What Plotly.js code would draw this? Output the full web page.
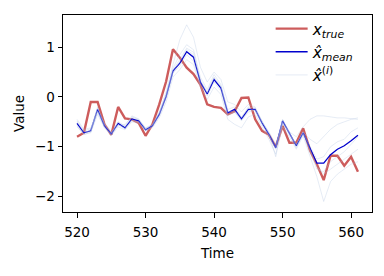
<!DOCTYPE html>
<html>
<head>
<meta charset="utf-8">
<script src="https://cdn.plot.ly/plotly-3.0.1.min.js"></script>
<style>html,body{margin:0;padding:0;background:#fff;}#chart{width:384px;height:276px;}</style>
</head>
<body>
<div id="chart"></div>
<script>
const time = Array.from({length: 42}, (_, i) => 520 + i);
const xTrue = [-0.80,-0.72,-0.10,-0.10,-0.55,-0.76,-0.20,-0.43,-0.45,-0.52,-0.78,-0.55,-0.15,0.31,0.96,0.79,0.59,0.46,0.25,-0.15,-0.20,-0.22,-0.35,-0.29,-0.02,-0.01,-0.45,-0.68,-0.76,-1.00,-0.58,-0.92,-0.92,-0.63,-1.07,-1.35,-1.67,-1.18,-1.18,-1.38,-1.20,-1.50];
const xMean = [-0.53,-0.72,-0.68,-0.25,-0.58,-0.74,-0.53,-0.62,-0.44,-0.48,-0.66,-0.58,-0.35,0.01,0.52,0.68,0.91,0.80,0.30,0.06,0.35,0.18,-0.32,-0.25,-0.44,-0.25,-0.25,-0.52,-0.75,-1.02,-0.48,-0.72,-0.98,-0.72,-1.02,-1.33,-1.33,-1.16,-1.05,-0.98,-0.88,-0.77];
const sample1 = [-0.45,-0.65,-0.62,-0.30,-0.52,-0.70,-0.58,-0.55,-0.40,-0.45,-0.62,-0.55,-0.30,0.10,0.65,1.15,1.45,1.20,0.60,0.30,0.50,0.35,-0.10,-0.15,-0.30,-0.15,-0.20,-0.50,-0.70,-0.95,-0.55,-0.70,-0.80,-0.60,-0.45,-0.38,-0.38,-0.40,-0.42,-0.42,-0.43,-0.45];
const sample2 = [-0.60,-0.75,-0.72,-0.35,-0.62,-0.78,-0.60,-0.66,-0.50,-0.52,-0.68,-0.62,-0.42,-0.10,0.40,0.55,0.75,0.65,0.20,-0.05,0.20,0.05,-0.45,-0.55,-0.62,-0.40,-0.35,-0.60,-0.85,-1.15,-0.60,-0.80,-1.05,-0.78,-1.20,-1.60,-2.10,-1.70,-1.55,-1.45,-1.35,-1.30];
const sample3 = [-0.50,-0.70,-0.70,-0.20,-0.55,-0.72,-0.50,-0.60,-0.42,-0.46,-0.64,-0.56,-0.32,0.05,0.58,0.85,1.05,0.95,0.40,0.15,0.45,0.25,-0.25,-0.20,-0.40,-0.22,-0.28,-0.55,-0.78,-1.05,-0.50,-0.74,-0.95,-0.70,-0.85,-0.94,-0.80,-0.65,-0.55,-0.50,-0.45,-0.42];
const sample4 = [-0.56,-0.74,-0.66,-0.28,-0.60,-0.76,-0.55,-0.64,-0.46,-0.50,-0.67,-0.60,-0.38,-0.03,0.48,0.62,0.85,0.72,0.25,0.02,0.30,0.12,-0.38,-0.30,-0.48,-0.30,-0.27,-0.50,-0.72,-1.00,-0.45,-0.70,-1.00,-0.75,-1.10,-1.45,-1.50,-1.30,-1.20,-1.10,-0.95,-0.80];
const sample5 = [-0.48,-0.68,-0.64,-0.22,-0.56,-0.73,-0.50,-0.58,-0.38,-0.44,-0.63,-0.57,-0.33,0.03,0.55,0.75,0.98,0.90,0.35,0.10,0.40,0.22,-0.30,-0.28,-0.42,-0.20,-0.22,-0.48,-0.74,-1.20,-0.52,-0.76,-0.96,-0.70,-1.05,-1.40,-1.55,-1.45,-1.35,-1.25,-1.15,-1.05];
const sample6 = [-0.58,-0.76,-0.70,-0.30,-0.60,-0.75,-0.56,-0.63,-0.48,-0.50,-0.66,-0.59,-0.36,0.00,0.50,0.70,0.95,0.85,0.30,0.08,0.38,0.20,-0.35,-0.30,-0.46,-0.27,-0.26,-0.54,-0.77,-1.04,-0.46,-0.73,-1.02,-0.73,-0.98,-1.25,-1.20,-1.00,-0.90,-0.85,-0.70,-0.62];
const samples = [sample1, sample2, sample3, sample4, sample5, sample6];
const xTicks = [520, 530, 540, 550, 560];
const yTicks = [-2, -1, 0, 1];

const traces = [];
traces.push({x: time, y: xTrue, mode: 'lines', name: '<i>x</i><sub><i>true</i></sub>',
  line: {color: '#CD5C5C', width: 2.4}});
traces.push({x: time, y: xMean, mode: 'lines', name: '<i>x̂</i><sub><i>mean</i></sub>',
  line: {color: '#0000CD', width: 1.3}});
samples.forEach((s, k) => {
  traces.push({x: time, y: s, mode: 'lines', name: '<i>x̂</i><sup>(<i>i</i>)</sup>',
    showlegend: k === 0, legendgroup: 'samples',
    line: {color: 'rgba(176,196,222,0.4)', width: 0.8}});
});

const font = {family: 'DejaVu Sans', size: 13.5, color: '#000'};
const layout = {
  width: 384, height: 276,
  margin: {l: 63, r: 12, t: 13, b: 64},
  paper_bgcolor: '#fff', plot_bgcolor: '#fff',
  font: font,
  showlegend: true,
  legend: {x: 0.96, y: 1.015, xanchor: 'right', yanchor: 'top', bgcolor: 'rgba(0,0,0,0)',
    itemwidth: 32,
    font: {family: 'DejaVu Sans', size: 15.5, color: '#000'}, tracegroupgap: 0},
  xaxis: {range: [517.95, 563.05], tickvals: xTicks, ticktext: xTicks.map(String),
    showgrid: false, zeroline: false, showline: true, mirror: true, linecolor: '#000', linewidth: 1,
    ticks: 'outside', ticklen: 4.5, tickcolor: '#000', tickwidth: 1, ticklabelstandoff: 3,
    title: {text: 'Time', font: font, standoff: 9}},
  yaxis: {range: [-2.311, 1.647], tickvals: yTicks,
    showgrid: false, zeroline: false, showline: true, mirror: true, linecolor: '#000', linewidth: 1,
    ticks: 'outside', ticklen: 4.5, tickcolor: '#000', tickwidth: 1,
    title: {text: 'Value', font: font, standoff: 7}}
};
Plotly.newPlot('chart', traces, layout, {displayModeBar: false, staticPlot: true});
</script>
</body>
</html>
